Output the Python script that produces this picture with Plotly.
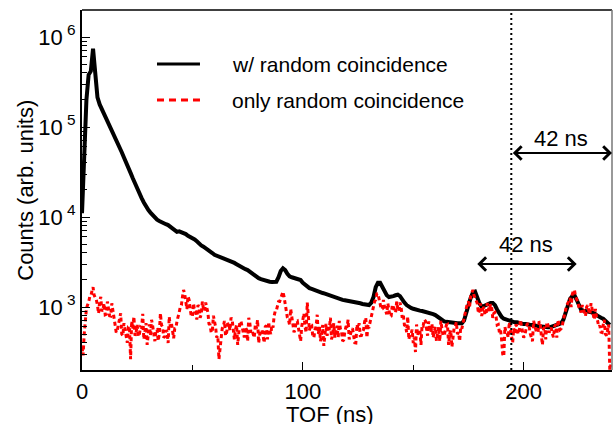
import plotly.graph_objects as go

# --- data (TOF bins in ns, counts) ---
tof_ns = list(range(240))
tof_half_ns = [t + 0.5 for t in tof_ns]

counts_with_random = [
    11000, 50000, 200000, 380000, 417000, 741000, 398000, 214000, 178000, 158000,
    138000, 123000, 110000, 100000, 89000, 77600, 67600, 58900, 52500, 45700,
    40700, 35500, 30900, 26900, 23400, 20400, 18200, 16200, 14500, 12900,
    12000, 11200, 10500, 9770, 9330, 9020, 8710, 8510, 8320, 8130,
    7760, 7410, 7080, 6840, 6920, 6760, 6760, 6460, 6170, 6030,
    5890, 5620, 5370, 5010, 4840, 4680, 4520, 4370, 4170, 3980,
    3800, 3720, 3630, 3550, 3470, 3390, 3310, 3240, 3160, 3090,
    2990, 2880, 2820, 2750, 2630, 2570, 2460, 2340, 2240, 2160,
    2090, 2040, 2000, 1950, 1900, 1910, 1900, 1905, 1910, 2140,
    2510, 2690, 2570, 2340, 2190, 2140, 2090, 2040, 2000, 1990,
    1860, 1780, 1660, 1620, 1590, 1550, 1510, 1480, 1450, 1430,
    1410, 1380, 1350, 1320, 1290, 1260, 1260, 1230, 1200, 1190,
    1180, 1150, 1150, 1140, 1120, 1110, 1100, 1080, 1070, 1060,
    1050, 1120, 1290, 1660, 1860, 1860, 1660, 1480, 1350, 1290,
    1290, 1320, 1350, 1370, 1320, 1200, 1120, 1050, 1000, 977,
    955, 933, 923, 912, 902, 891, 881, 871, 851, 832,
    813, 776, 741, 708, 692, 684, 676, 676, 668, 661,
    661, 661, 661, 708, 832, 1047, 1259, 1445, 1479, 1259,
    1096, 1000, 1023, 1072, 1096, 1109, 1109, 1047, 933, 832,
    776, 741, 724, 708, 692, 684, 676, 676, 661, 661,
    646, 646, 631, 631, 631, 617, 617, 610, 603, 603,
    603, 596, 596, 603, 617, 631, 646, 661, 724, 891,
    1096, 1230, 1318, 1349, 1202, 1047, 933, 912, 891, 891,
    881, 871, 851, 813, 776, 759, 741, 708, 676, 631,
]

# only-random counts at whole ns
counts_only_random = [
    355, 501, 955, 1122, 1318, 1660, 1259, 1047, 1148, 891,
    1096, 832, 955, 794, 912, 631, 550, 724, 501, 661,
    525, 603, 263, 575, 479, 631, 501, 589, 437, 661,
    525, 479, 617, 417, 562, 501, 631, 457, 550, 398,
    603, 501, 575, 692, 871, 1047, 1549, 1202, 1318, 955,
    794, 891, 724, 1000, 832, 955, 1122, 871, 631, 525,
    692, 457, 263, 501, 603, 479, 661, 550, 724, 437,
    631, 525, 692, 501, 603, 417, 661, 550, 457, 575,
    398, 525, 479, 603, 437, 550, 631, 794, 912, 1148,
    1259, 1479, 1047, 759, 631, 794, 525, 692, 575, 417,
    724, 603, 1122, 550, 631, 457, 603, 501, 417, 631,
    550, 479, 575, 437, 661, 525, 457, 575, 417, 525,
    603, 437, 550, 501, 398, 575, 479, 525, 692, 457,
    603, 759, 1000, 1202, 1413, 1148, 955, 1000, 832, 912,
    794, 1047, 871, 955, 1122, 759, 631, 525, 437, 501,
    398, 316, 479, 550, 631, 724, 575, 692, 525, 457,
    603, 501, 417, 575, 479, 631, 380, 550, 457, 603,
    501, 417, 575, 692, 912, 1148, 1318, 1549, 1259, 1096,
    912, 794, 1000, 832, 955, 1072, 759, 871, 631, 525,
    437, 282, 525, 457, 575, 398, 501, 603, 525, 631,
    457, 550, 661, 501, 417, 603, 525, 692, 479, 575,
    437, 631, 550, 501, 603, 457, 631, 575, 724, 912,
    1096, 1259, 1380, 1549, 1202, 1000, 871, 955, 794, 1047,
    832, 912, 724, 759, 603, 525, 631, 501, 550, 200,
]

# only-random counts at half ns
counts_only_random_half = [
    290, 760, 1050, 1300, 1500, 1350, 1200, 850, 1300, 950,
    820, 1150, 800, 1100, 700, 520, 640, 850, 480, 560,
    400, 610, 700, 780, 520, 470, 600, 840, 540, 380,
    640, 720, 500, 560, 420, 850, 600, 470, 530, 780,
    660, 450, 580, 820, 1000, 1300, 1400, 950, 1200, 780,
    1100, 870, 1050, 760, 1150, 900, 1000, 650, 520, 800,
    600, 480, 340, 580, 700, 520, 640, 760, 500, 560,
    380, 690, 610, 460, 560, 760, 520, 480, 640, 720,
    500, 560, 400, 620, 680, 500, 590, 900, 1050, 1150,
    1400, 1300, 850, 720, 950, 640, 560, 700, 480, 610,
    850, 520, 780, 640, 470, 560, 820, 600, 500, 370,
    650, 580, 760, 500, 460, 620, 700, 540, 430, 600,
    720, 510, 580, 400, 640, 660, 480, 560, 760, 610,
    700, 900, 1150, 1400, 1250, 950, 1200, 900, 1100, 780,
    1050, 880, 1150, 900, 1000, 820, 620, 780, 500, 560,
    460, 640, 560, 380, 620, 700, 480, 560, 640, 520,
    420, 600, 700, 480, 560, 640, 500, 360, 580, 680,
    520, 600, 660, 850, 1100, 1000, 1450, 1350, 1200, 850,
    1100, 950, 820, 1100, 900, 1000, 850, 780, 640, 560,
    300, 600, 520, 680, 460, 580, 640, 500, 720, 560,
    480, 640, 600, 440, 700, 560, 520, 660, 380, 600,
    680, 520, 590, 460, 640, 720, 560, 620, 850, 1050,
    1200, 1000, 1500, 1300, 1150, 950, 1050, 860, 1000, 900,
    1100, 820, 950, 700, 620, 520, 720, 480, 640, 230,
]

legend_labels = ["w/ random coincidence", "only random coincidence"]
y_tick_vals = [1e3, 1e4, 1e5, 1e6]
y_tick_text = ["10<sup> 3</sup>", "10<sup> 4</sup>", "10<sup> 5</sup>", "10<sup> 6</sup>"]
y_minor_vals = [m * 10 ** d for d in (2, 3, 4, 5, 6) for m in range(2, 10)]
x_tick_vals = [0, 100, 200]

marker_line_ns = 194.4          # dotted vertical line
arrow_upper = (194.4, 240.0)    # 42 ns window to the edge
arrow_lower = (178.3, 224.0)    # peak-to-peak 42 ns
FONT = "Liberation Sans, Arial, sans-serif"

# merge whole and half-ns bins in time order
red_x, red_y = [], []
for t, v, th, vh in zip(tof_ns, counts_only_random, tof_half_ns, counts_only_random_half):
    red_x += [t, th]
    red_y += [v, vh]

fig = go.Figure()
fig.add_trace(go.Scatter(x=tof_ns, y=counts_with_random, mode="lines",
                         line=dict(color="black", width=4),
                         name=legend_labels[0], showlegend=False))
fig.add_trace(go.Scatter(x=red_x, y=red_y, mode="lines",
                         line=dict(color="#ff0000", width=3, dash="4px,3px"),
                         name=legend_labels[1], showlegend=False))

fig.update_layout(
    width=615, height=424,
    margin=dict(l=82, r=3, t=10, b=54),
    paper_bgcolor="white", plot_bgcolor="white",
    font=dict(family=FONT, size=22, color="black"),
    xaxis=dict(range=[0, 240], tickvals=x_tick_vals, ticks="inside", ticklen=8,
               tickwidth=1, tickcolor="black", showline=True, linecolor="black",
               linewidth=2, showgrid=False, zeroline=False, ticklabelstandoff=1,
               tickfont=dict(size=22),
               minor=dict(tickvals=[50, 150], ticks="inside", ticklen=5,
                          tickcolor="black", showgrid=False)),
    yaxis=dict(type="log", range=[2.3, 6.3], tickvals=y_tick_vals, ticktext=y_tick_text,
               ticks="inside", ticklen=8, tickwidth=1, tickcolor="black",
               showline=True, linecolor="black", linewidth=2, showgrid=False,
               zeroline=False, tickfont=dict(size=22),
               minor=dict(tickvals=y_minor_vals, ticks="inside", ticklen=5,
                          tickcolor="black", showgrid=False)),
)

# frame top and right
fig.add_shape(type="line", xref="paper", yref="paper", x0=0, x1=1, y0=1, y1=1,
              line=dict(color="black", width=1.5))
fig.add_shape(type="line", xref="paper", yref="paper", x0=1, x1=1, y0=0, y1=1,
              line=dict(color="#777777", width=1.5))

# dotted vertical line
fig.add_shape(type="line", xref="x", yref="paper", x0=marker_line_ns, x1=marker_line_ns,
              y0=0, y1=1, line=dict(color="black", width=2, dash="2px,3px"))

# legend (manual)
fig.add_shape(type="line", xref="paper", yref="paper", x0=0.1415, x1=0.2226, y0=0.85, y1=0.85,
              line=dict(color="black", width=3))
fig.add_shape(type="line", xref="paper", yref="paper", x0=0.1415, x1=0.2226, y0=0.75, y1=0.75,
              line=dict(color="#ff0000", width=3, dash="7px,5px"))
fig.add_annotation(xref="paper", yref="paper", x=0.28, y=0.85, text=legend_labels[0],
                   showarrow=False, xanchor="left", yanchor="middle", font=dict(size=21))
fig.add_annotation(xref="paper", yref="paper", x=0.28, y=0.75, text=legend_labels[1],
                   showarrow=False, xanchor="left", yanchor="middle", font=dict(size=21))

# arrows
for (a, b), ylog, lab_x, lab_y in [(arrow_upper, 4.711, 216.7, 4.867),
                                   (arrow_lower, 3.478, 200.9, 3.689)]:
    fig.add_annotation(x=b, y=ylog, ax=a, ay=ylog, xref="x", yref="y", axref="x", ayref="y",
                       text="", showarrow=True, arrowhead=4, arrowside="end+start",
                       arrowwidth=2, arrowsize=1.3, arrowcolor="black")
    fig.add_annotation(x=lab_x, y=lab_y, xref="x", yref="y", text="42 ns", showarrow=False,
                       xanchor="center", yanchor="middle", font=dict(size=22))

# axis titles
fig.add_annotation(xref="paper", yref="paper", x=0.468, y=-0.084, text="TOF (ns)",
                   showarrow=False, xanchor="center", yanchor="top", font=dict(size=22))
fig.add_annotation(xref="paper", yref="paper", x=-0.108, y=0.5, text="Counts (arb. units)",
                   showarrow=False, textangle=-90, xanchor="center", yanchor="middle",
                   font=dict(size=22))

fig.write_html("out.html")
